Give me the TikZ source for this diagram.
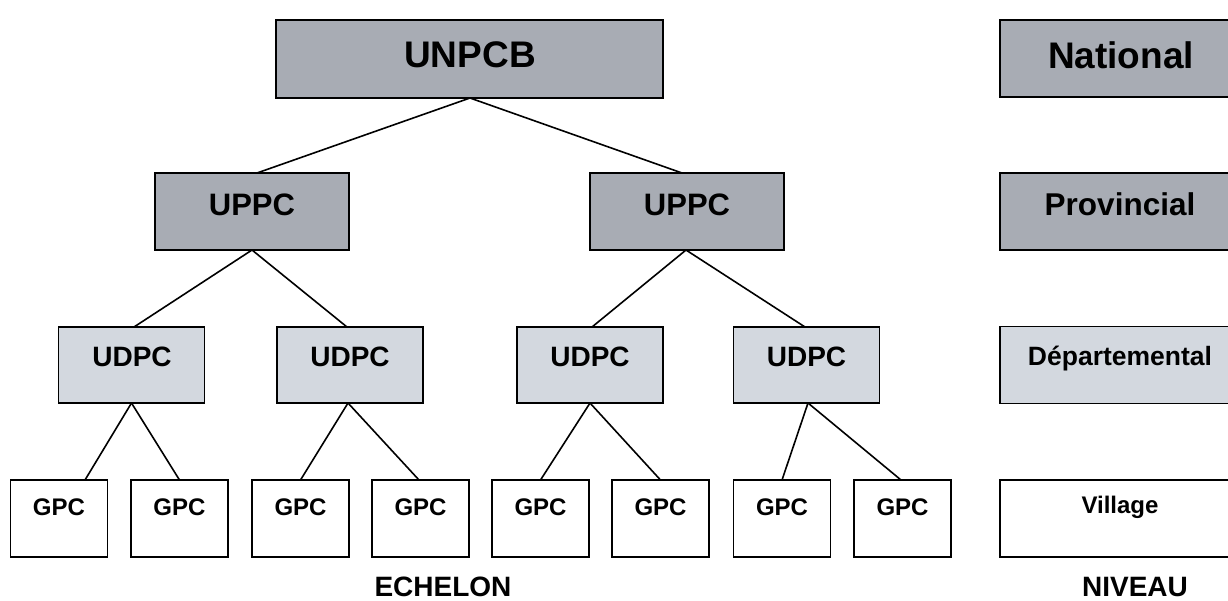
\documentclass[tikz,border=0pt]{standalone}
\usepackage{fontspec}
\setmainfont{Liberation Sans}
\definecolor{darkbox}{RGB}{168,172,180}
\definecolor{lightbox}{RGB}{211,216,223}
\begin{document}
\begin{tikzpicture}[x=1pt,y=-1pt,
  box/.style={draw=black,line width=1.8pt,rectangle,inner sep=0pt,outer sep=0pt},
  dark/.style={box,fill=darkbox},
  light/.style={box,fill=lightbox},
  plain/.style={box,fill=white},
  gpcbox/.style={plain,minimum width=97pt,minimum height=77pt},
  udpcbox/.style={light,minimum width=146pt,minimum height=76pt},
  sidebox/.style={minimum width=240pt,minimum height=77pt},
  lbl/.style={inner sep=0pt,anchor=base,font=\bfseries},
  conn/.style={line width=1.6pt}]
\useasboundingbox[fill=white] (0,0) rectangle (1228,600);

% boxes
\node[dark,minimum width=387pt,minimum height=78pt] (unpcb) at (469.5,59) {};
\node[dark,sidebox] (national) at (1120,58.5) {};
\node[dark,minimum width=194pt,minimum height=77pt] (uppc1) at (252,211.5) {};
\node[dark,minimum width=194pt,minimum height=77pt] (uppc2) at (687,211.5) {};
\node[dark,sidebox] (provincial) at (1120,211.5) {};
\node[udpcbox] (udpc1) at (131.5,365) {};
\node[udpcbox] (udpc2) at (350,365) {};
\node[udpcbox] (udpc3) at (590,365) {};
\node[udpcbox] (udpc4) at (806.5,365) {};
\node[light,sidebox] (dept) at (1120,365) {};
\node[gpcbox] (gpc1) at (59,518.5) {};
\node[gpcbox] (gpc2) at (179.5,518.5) {};
\node[gpcbox] (gpc3) at (300.5,518.5) {};
\node[gpcbox] (gpc4) at (420.5,518.5) {};
\node[gpcbox] (gpc5) at (540.5,518.5) {};
\node[gpcbox] (gpc6) at (660.5,518.5) {};
\node[gpcbox] (gpc7) at (782,518.5) {};
\node[gpcbox] (gpc8) at (902.5,518.5) {};
\node[plain,sidebox] (village) at (1120,518.5) {};

% labels
\node[lbl,font=\bfseries\fontsize{37}{40}\selectfont] (t-unpcb) at (470,67) {UNPCB};
\node[lbl,font=\bfseries\fontsize{37}{40}\selectfont] (t-national) at (1121,68) {National};
\node[lbl,font=\bfseries\fontsize{31}{34}\selectfont] (t-uppc1) at (252,215) {UPPC};
\node[lbl,font=\bfseries\fontsize{31}{34}\selectfont] (t-uppc2) at (687,215) {UPPC};
\node[lbl,font=\bfseries\fontsize{31.5}{34}\selectfont] (t-prov) at (1120,215) {Provincial};
\node[lbl,font=\bfseries\fontsize{28}{30}\selectfont] (t-udpc1) at (132,366) {UDPC};
\node[lbl,font=\bfseries\fontsize{28}{30}\selectfont] (t-udpc2) at (350,366) {UDPC};
\node[lbl,font=\bfseries\fontsize{28}{30}\selectfont] (t-udpc3) at (590,366) {UDPC};
\node[lbl,font=\bfseries\fontsize{28}{30}\selectfont] (t-udpc4) at (806.5,366) {UDPC};
\node[lbl,font=\bfseries\fontsize{26.5}{29}\selectfont] (t-dept) at (1120,365) {Départemental};
\foreach \i/\x in {1/59,2/179.5,3/300.5,4/420.5,5/540.5,6/660.5,7/782,8/902.5}{
  \node[lbl,font=\bfseries\fontsize{24}{26}\selectfont] (t-gpc\i) at (\x,515) {GPC};
}
\node[lbl,font=\bfseries\fontsize{24}{26}\selectfont] (t-village) at (1120,513) {Village};
\node[lbl,font=\bfseries\fontsize{28}{30}\selectfont] (echelon) at (443,596.5) {ECHELON};
\node[lbl,font=\bfseries\fontsize{28}{30}\selectfont] (niveau) at (1135,596.5) {NIVEAU};

% connectors
\draw[conn] ([xshift=0.5pt]unpcb.south) -- ([xshift=5pt]uppc1.north);
\draw[conn] ([xshift=0.5pt]unpcb.south) -- ([xshift=-5pt]uppc2.north);
\draw[conn] (uppc1.south) -- ([xshift=2.5pt]udpc1.north);
\draw[conn] (uppc1.south) -- ([xshift=-3pt]udpc2.north);
\draw[conn] ([xshift=-1pt]uppc2.south) -- ([xshift=2pt]udpc3.north);
\draw[conn] ([xshift=-1pt]uppc2.south) -- ([xshift=-1.5pt]udpc4.north);
\draw[conn] (udpc1.south) -- ([xshift=26pt]gpc1.north);
\draw[conn] (udpc1.south) -- (gpc2.north);
\draw[conn] ([xshift=-2pt]udpc2.south) -- (gpc3.north);
\draw[conn] ([xshift=-2pt]udpc2.south) -- ([xshift=-1.5pt]gpc4.north);
\draw[conn] (udpc3.south) -- (gpc5.north);
\draw[conn] (udpc3.south) -- (gpc6.north);
\draw[conn] ([xshift=1.5pt]udpc4.south) -- (gpc7.north);
\draw[conn] ([xshift=1.5pt]udpc4.south) -- ([xshift=-1.5pt]gpc8.north);
\end{tikzpicture}
\end{document}
